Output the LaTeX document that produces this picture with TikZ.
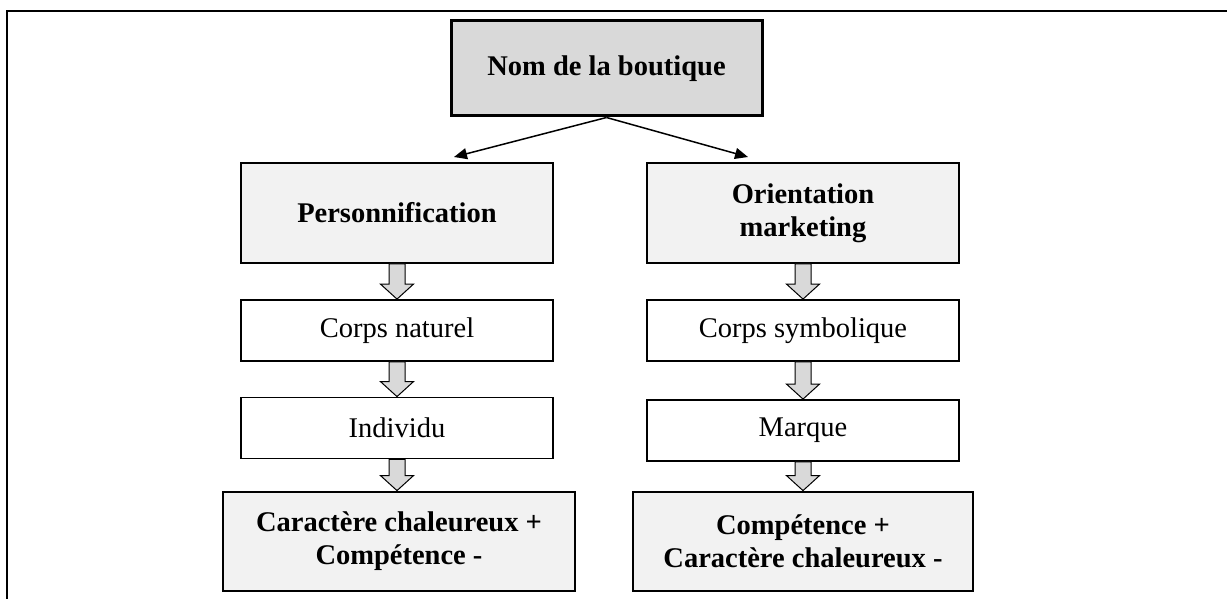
\documentclass[tikz,border=0pt]{standalone}
\usepackage{fontspec}
\setmainfont{Liberation Serif}
\usepackage{tikz}
\usetikzlibrary{arrows.meta,calc}

\definecolor{grisfonce}{HTML}{D9D9D9}
\definecolor{grisclair}{HTML}{F2F2F2}

% grosse fleche grise entre deux cases
\newcommand{\blocbas}[2]{%
  \path[blocfleche] let \p1=(#1.south), \p2=(#2.north) in
    (\x1-4pt,\y1) -- (\x1-4pt,\y2+7.5pt) -- (\x1-8.25pt,\y2+7.5pt) -- (\x1,\y2)
    -- (\x1+8.25pt,\y2+7.5pt) -- (\x1+4pt,\y2+7.5pt) -- (\x1+4pt,\y1) -- cycle;}

\begin{document}
\begin{tikzpicture}[x=0.5pt,y=-0.5pt,
  every node/.style={inner sep=0pt,align=center,font=\fontsize{14.25}{16.5}\selectfont},
  titre/.style={draw,line width=1.5pt,fill=grisfonce,minimum width=155.5pt,minimum height=47.5pt,font=\fontsize{14.25}{16.5}\selectfont\bfseries},
  axe/.style={draw,line width=0.9pt,fill=grisclair,minimum width=156pt,minimum height=50pt,font=\fontsize{14.25}{16.5}\selectfont\bfseries},
  etape/.style={draw,line width=0.9pt,fill=white,minimum width=156pt,minimum height=30.5pt},
  effet/.style={draw,line width=1.4pt,fill=grisclair,minimum height=49.5pt,font=\fontsize{14.25}{16.5}\selectfont\bfseries},
  fleche/.style={line width=0.75pt,-{Triangle[length=6.5pt,width=5.5pt]}},
  blocfleche/.style={draw,line width=0.5pt,fill=grisfonce}]
\useasboundingbox (0,0) rectangle (1227,599);
% cadre
\draw[line width=1.25pt] (1227,11) -- (7,11) -- (7,599);

\node[titre] (boutique) at (606.5,68.5) {Nom de la boutique};

\node[axe] (perso) at (397,213) {Personnification};
\node[axe] (orient) at (803,213) {Orientation\\marketing};

\node[etape] (naturel) at (397,330.5) {Corps naturel};
\node[etape] (symbol) at (803,330.5) {Corps symbolique};

\node[etape] (individu) at (397,428) {Individu};
\node[etape] (marque) at (803,430.5) {Marque};

\node[effet,minimum width=176pt] (chaleur) at (399,541.5) {Caract\`ere chaleureux +\\Comp\'etence -};
\node[effet,minimum width=170pt] (compet) at (803,541.5) {Comp\'etence +\\Caract\`ere chaleureux -};

\coordinate (versperso) at (454,157);
\coordinate (versorient) at (748,157);
\draw[fleche] (boutique.south) -- (versperso);
\draw[fleche] (boutique.south) -- (versorient);

\blocbas{perso}{naturel}
\blocbas{naturel}{individu}
\blocbas{individu}{chaleur}
\blocbas{orient}{symbol}
\blocbas{symbol}{marque}
\blocbas{marque}{compet}
\end{tikzpicture}
\end{document}
